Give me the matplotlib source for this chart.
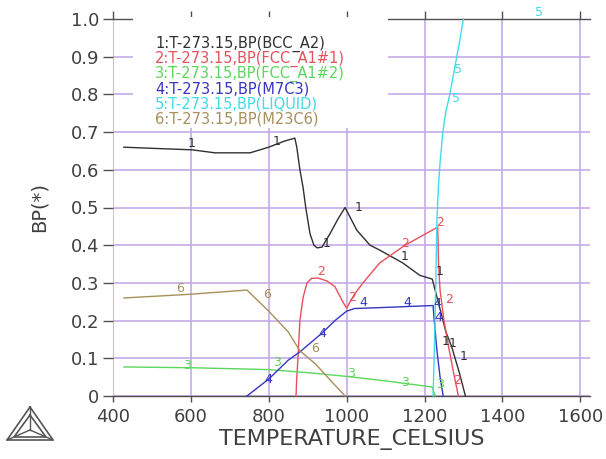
#Thermo-Calc style phase fraction plot, BP(*) vs temperature
import matplotlib
matplotlib.use("Agg")
import matplotlib.pyplot as plt
from matplotlib.patches import Rectangle
from matplotlib.lines import Line2D

plt.rcParams['font.family'] = ['DejaVu Sans']

#curve 1: BCC_A2
t_bcc = [428, 500, 603, 662, 752, 800, 840, 867, 872, 880, 888, 895, 906, 916, 924, 937, 957, 978, 996,
         1026, 1060, 1085, 1144, 1188, 1220, 1235, 1255, 1270, 1290, 1305]
bp_bcc = [0.66, 0.657, 0.653, 0.645, 0.645, 0.66, 0.676, 0.684, 0.66, 0.6, 0.554, 0.5, 0.43, 0.40, 0.393,
          0.395, 0.43, 0.47, 0.50, 0.44, 0.40, 0.387, 0.353, 0.32, 0.31, 0.25, 0.17, 0.13, 0.06, 0.0]
#curve 2: FCC_A1#1
t_fcc1 = [870, 872, 875, 880, 888, 898, 910, 926, 950, 970, 990, 1000, 1020, 1042, 1085, 1150, 1234,
          1236, 1240, 1250, 1262, 1275, 1287]
bp_fcc1 = [0.0, 0.05, 0.10, 0.20, 0.26, 0.30, 0.312, 0.313, 0.305, 0.29, 0.25, 0.233, 0.27, 0.30, 0.353,
           0.40, 0.448, 0.35, 0.28, 0.20, 0.13, 0.06, 0.0]
#curve 3: FCC_A1#2
t_fcc2 = [428, 600, 800, 900, 1000, 1100, 1219, 1228]
bp_fcc2 = [0.077, 0.075, 0.070, 0.062, 0.052, 0.040, 0.024, 0.0]
#curve 4: M7C3
t_m7c3 = [744, 800, 850, 880, 937, 970, 1000, 1020, 1100, 1222, 1225, 1232, 1240, 1248]
bp_m7c3 = [0.0, 0.045, 0.095, 0.117, 0.167, 0.20, 0.225, 0.232, 0.235, 0.24, 0.20, 0.12, 0.05, 0.0]
#curve 5: LIQUID
t_liq = [1222, 1226, 1229, 1232, 1236, 1240, 1244, 1247, 1255, 1265, 1278, 1290, 1300]
bp_liq = [0.0, 0.15, 0.30, 0.47, 0.56, 0.62, 0.665, 0.70, 0.755, 0.80, 0.873, 0.94, 1.0]
#curve 6: M23C6
t_m23 = [428, 600, 744, 800, 850, 880, 920, 960, 996]
bp_m23 = [0.26, 0.27, 0.281, 0.225, 0.17, 0.12, 0.085, 0.04, 0.0]

names = ["1:T-273.15,BP(BCC_A2)", "2:T-273.15,BP(FCC_A1#1)", "3:T-273.15,BP(FCC_A1#2)",
         "4:T-273.15,BP(M7C3)", "5:T-273.15,BP(LIQUID)", "6:T-273.15,BP(M23C6)"]
colors = ["#303030", "#e8505a", "#5cd65c", "#3535c0", "#40dcec", "#a8905c"]

#curve number labels (T, BP)
lab1 = [(603, 0.67), (821, 0.675), (1032, 0.50), (949, 0.405), (1150, 0.37), (1240, 0.33),
        (1254, 0.145), (1273, 0.14), (1300, 0.105)]
lab2 = [(935, 0.33), (1014, 0.26), (1150, 0.405), (1240, 0.46), (1262, 0.255), (1283, 0.04)]
lab3 = [(590, 0.08), (821, 0.09), (1010, 0.06), (1150, 0.035), (1240, 0.03)]
lab4 = [(800, 0.045), (937, 0.167), (1042, 0.247), (1157, 0.247), (1236, 0.207), (1232, 0.245)]
lab5 = [(1495, 1.017), (1285, 0.865), (1280, 0.79)]
lab6 = [(572, 0.285), (795, 0.268), (919, 0.127)]

xticks = [400, 600, 800, 1000, 1200, 1400, 1600]
yticks = [0, 0.1, 0.2, 0.3, 0.4, 0.5, 0.6, 0.7, 0.8, 0.9, 1.0]
ytick_labels = ["0", "0.1", "0.2", "0.3", "0.4", "0.5", "0.6", "0.7", "0.8", "0.9", "1.0"]

fig = plt.figure(figsize=(6.06, 4.59), dpi=100)
ax = fig.add_axes([113/606, 63/459, 477/606, 377/459])

curves = [(t_bcc, bp_bcc), (t_fcc1, bp_fcc1), (t_fcc2, bp_fcc2), (t_m7c3, bp_m7c3), (t_liq, bp_liq), (t_m23, bp_m23)]
labels = [lab1, lab2, lab3, lab4, lab5, lab6]
for i in range(6):
    ax.plot(curves[i][0], curves[i][1], color=colors[i], lw=1.0, zorder=4, clip_on=False)
    for (tx, ty) in labels[i]:
        ax.text(tx, ty, str(i+1), color=colors[i], fontsize=9, ha='center', va='center', zorder=5, clip_on=False)

ax.set_xlim(400, 1625)
ax.set_ylim(0, 1.0)
ax.set_xticks(xticks)
ax.set_yticks(yticks)
ax.set_yticklabels(ytick_labels)
ax.grid(True, color='#c4ace8', lw=1.2, zorder=1)
ax.set_axisbelow(True)
for s in ['left', 'right']:
    ax.spines[s].set_visible(False)
for s in ['top', 'bottom']:
    ax.spines[s].set_color('#505050')
    ax.spines[s].set_linewidth(1.0)
ax.tick_params(axis='y', direction='out', length=7, width=1, color='#505050', pad=3,
               labelsize=13, labelcolor='#404040')
ax.tick_params(axis='x', direction='out', length=4, width=1, color='#505050', pad=5,
               labelsize=13, labelcolor='#404040', top=True)
ax.tick_params(axis='x', which='major', top=True)
for t in ax.xaxis.get_major_ticks():
    t.tick2line.set_color('#9a86c0')
    t.tick2line.set_markersize(6)
ax.set_xlabel("TEMPERATURE_CELSIUS", fontsize=16, color='#404040', labelpad=2)
ax.set_ylabel("BP(*)", fontsize=14, color='#404040', labelpad=16)

#legend box as white panel with coloured text
ax.add_patch(Rectangle((451, 0.711), 655, 0.295, facecolor='white', edgecolor='none', zorder=3, clip_on=False))
for i in range(6):
    ax.text(508, 0.935 - i*0.0398, names[i], color=colors[i], fontsize=10.5, ha='left', va='center', zorder=5)

#logo triangle
def fp(px, py):
    return px/606, 1 - py/459
ax_pts = [fp(30, 407), fp(7, 440), fp(53, 440), fp(30, 407)]
in_pts = [fp(30, 415), fp(14, 437), fp(46, 437), fp(30, 415)]
c = fp(30, 430)
for pts in [ax_pts, in_pts]:
    fig.add_artist(Line2D([p[0] for p in pts], [p[1] for p in pts], color='#555555', lw=1.2))
for p in ax_pts[:3]:
    fig.add_artist(Line2D([p[0], c[0]], [p[1], c[1]], color='#555555', lw=1.0))

fig.savefig("out.png", dpi=100)
